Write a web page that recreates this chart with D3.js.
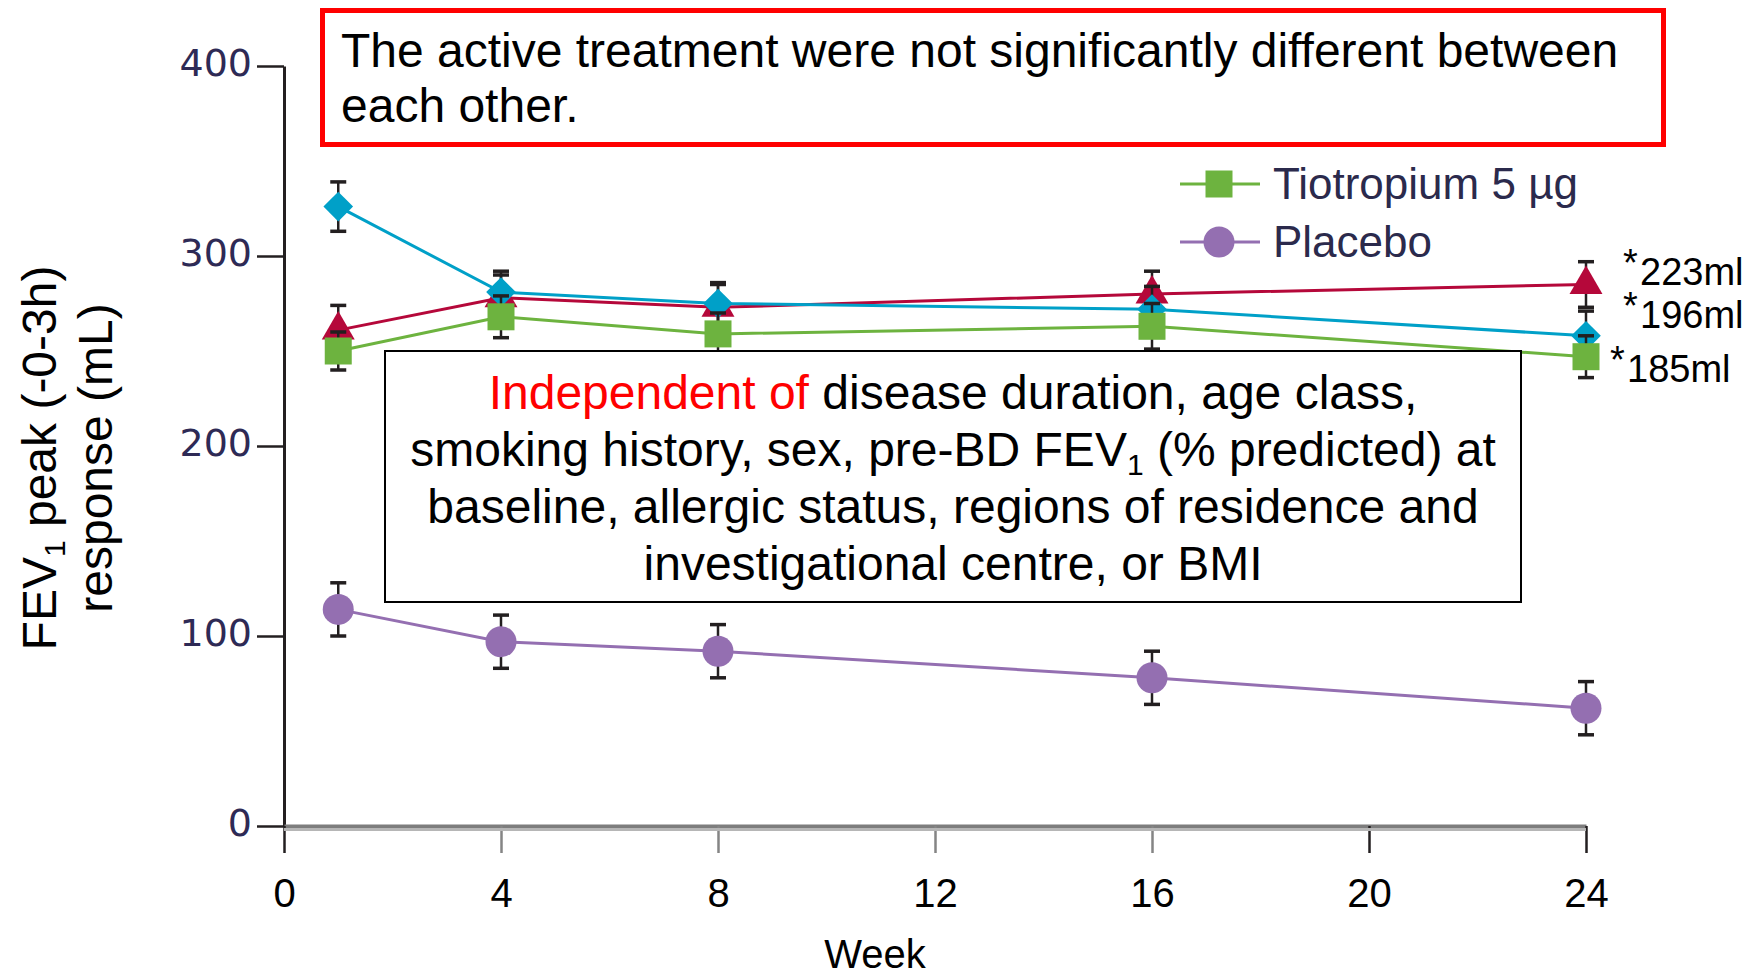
<!DOCTYPE html>
<html>
<head>
<meta charset="utf-8">
<script src="https://cdn.jsdelivr.net/npm/d3@7"></script>
<style>
  body { margin: 0; background: #fff; }
  svg { display: block; }
</style>
</head>
<body>
<svg id="chart" width="1761" height="979"></svg>
<script>
// ---- data ----
const weeks = [1, 4, 8, 16, 24];
const comboHigh = [261, 278, 273, 280, 285];
const comboHighErr = [13, 12, 12, 12, 12];
const comboLow = [326, 281, 275, 272, 258];
const comboLowErr = [13, 11, 11, 12, 13];
const tiotropium = [250, 268, 259, 263, 247];
const tiotropiumErr = [10, 11, 11, 12, 11];
const placebo = [114, 97, 92, 78, 62];
const placeboErr = [14, 14, 14, 14, 14];

const xTicks = [0, 4, 8, 12, 16, 20, 24];
const yTicks = [0, 100, 200, 300, 400];
const legendLabels = ["Tiotropium 5 µg", "Placebo"];
const xTitle = "Week";
const headline = ["The active treatment were not significantly different between", "each other."];

// ---- layout ----
const svg = d3.select("#chart");
const x = d3.scaleLinear().domain([0, 24]).range([284, 1586]);
const y = d3.scaleLinear().domain([0, 400]).range([826, 66]);
const SANS = "'Liberation Sans', Arial, sans-serif";

const series = [
  { key: "comboHigh", values: comboHigh, err: comboHighErr, color: "#b5083a", shape: "triangle" },
  { key: "comboLow", values: comboLow, err: comboLowErr, color: "#00a0c8", shape: "diamond" },
  { key: "tiotropium", values: tiotropium, err: tiotropiumErr, color: "#6db33f", shape: "square" },
  { key: "placebo", values: placebo, err: placeboErr, color: "#946fb1", shape: "circle" }
];

const symbolFor = {
  triangle: d3.symbol().type(d3.symbolTriangle).size(470),
  diamond: d3.symbol().type(d3.symbolSquare).size(440),
  square: d3.symbol().type(d3.symbolSquare).size(729),
  circle: d3.symbol().type(d3.symbolCircle).size(755)
};
const rotFor = { triangle: 0, diamond: 45, square: 0, circle: 0 };

// ---- y axis ----
const yAxis = svg.append("g")
  .attr("transform", "translate(284,0)")
  .call(d3.axisLeft(y).tickValues(yTicks).tickSize(27).tickSizeOuter(0).tickPadding(5));
yAxis.select(".domain").attr("stroke", "#231f20").attr("stroke-width", 3);
yAxis.selectAll(".tick line").attr("stroke", "#231f20").attr("stroke-width", 2.5);
yAxis.selectAll(".tick text")
  .attr("font-family", "'DejaVu Sans', sans-serif")
  .attr("font-size", 38)
  .attr("fill", "#2e2a55")
  .attr("dy", "0.25em");

// ---- x axis ----
const xAxis = svg.append("g")
  .attr("transform", "translate(0,826)")
  .call(d3.axisBottom(x).tickValues(xTicks).tickSize(27).tickSizeOuter(0).tickPadding(26));
xAxis.select(".domain").attr("stroke", "#7d7d7d").attr("stroke-width", 4);
xAxis.append("line")
  .attr("x1", x.range()[0]).attr("x2", x.range()[1])
  .attr("y1", 3.5).attr("y2", 3.5)
  .attr("stroke", "#b6b6b6").attr("stroke-width", 3);
xAxis.selectAll(".tick line")
  .attr("stroke", d => (d === 0 || d >= 20) ? "#231f20" : "#858585")
  .attr("stroke-width", 2.5);
xAxis.selectAll(".tick text")
  .attr("font-family", SANS)
  .attr("font-size", 40)
  .attr("fill", "#000");

svg.append("text")
  .attr("x", 875).attr("y", 968)
  .attr("text-anchor", "middle")
  .attr("font-family", SANS).attr("font-size", 40)
  .text(xTitle);

// ---- y axis title (two rotated lines) ----
const yTitle1 = svg.append("text")
  .attr("transform", "translate(56,458) rotate(-90)")
  .attr("text-anchor", "middle")
  .attr("font-family", SANS).attr("font-size", 48);
yTitle1.append("tspan").text("FEV");
yTitle1.append("tspan").attr("font-size", 30).attr("dy", 9).text("1");
yTitle1.append("tspan").attr("dy", -9).text(" peak (-0-3h)");

svg.append("text")
  .attr("transform", "translate(112,458) rotate(-90)")
  .attr("text-anchor", "middle")
  .attr("font-family", SANS).attr("font-size", 48)
  .text("response (mL)");

// ---- series: line, error bars, markers ----
const line = d3.line().x(d => x(d.w)).y(d => y(d.v));

series.forEach(s => {
  const pts = weeks.map((w, i) => ({ w, v: s.values[i], e: s.err[i] }));
  const g = svg.append("g").attr("class", "series-" + s.key);

  g.append("path")
    .datum(pts)
    .attr("d", line)
    .attr("fill", "none")
    .attr("stroke", s.color)
    .attr("stroke-width", 3);

  const eb = g.selectAll(".err").data(pts).join("g").attr("class", "err")
    .attr("stroke", "#231f20");
  eb.append("line")
    .attr("x1", d => x(d.w)).attr("x2", d => x(d.w))
    .attr("y1", d => y(d.v + d.e)).attr("y2", d => y(d.v - d.e))
    .attr("stroke-width", 2.5);
  eb.append("line")
    .attr("x1", d => x(d.w) - 8).attr("x2", d => x(d.w) + 8)
    .attr("y1", d => y(d.v + d.e)).attr("y2", d => y(d.v + d.e))
    .attr("stroke-width", 3.5);
  eb.append("line")
    .attr("x1", d => x(d.w) - 8).attr("x2", d => x(d.w) + 8)
    .attr("y1", d => y(d.v - d.e)).attr("y2", d => y(d.v - d.e))
    .attr("stroke-width", 3.5);

  g.selectAll(".mk").data(pts).join("path").attr("class", "mk")
    .attr("d", symbolFor[s.shape])
    .attr("transform", d => `translate(${x(d.w)},${y(d.v)}) rotate(${rotFor[s.shape]})`)
    .attr("fill", s.color);
});

// ---- differences vs placebo at the last visit ----
const last = weeks.length - 1;
const diffLabelOffsets = [0, -8, 25];
const diffLabelX = [1623, 1623, 1610];
series.slice(0, 3).forEach((s, i) => {
  const diff = s.values[last] - placebo[last];
  const base = y(s.values[last]) + diffLabelOffsets[i];
  svg.append("text")
    .attr("x", diffLabelX[i]).attr("y", base - 9)
    .attr("font-family", SANS).attr("font-size", 38).attr("fill", "#000")
    .text("*");
  svg.append("text")
    .attr("x", diffLabelX[i] + 17).attr("y", base)
    .attr("font-family", SANS).attr("font-size", 38).attr("fill", "#000")
    .text(diff + "ml");
});

// ---- legend ----
const legendItems = [series[2], series[3]];
const legendRows = [184, 242];
legendItems.forEach((s, i) => {
  const g = svg.append("g").attr("transform", `translate(0,${legendRows[i]})`);
  g.append("line").attr("x1", 1180).attr("x2", 1260).attr("y1", 0).attr("y2", 0)
    .attr("stroke", s.color).attr("stroke-width", 3);
  g.append("path").attr("d", symbolFor[s.shape])
    .attr("transform", "translate(1219,0)").attr("fill", s.color);
  g.append("text").attr("x", 1273).attr("y", 15)
    .attr("font-family", SANS)
    .attr("font-size", 44).attr("fill", "#2b2a4c")
    .text(legendLabels[i]);
});

// ---- headline box ----
svg.append("rect")
  .attr("x", 322.5).attr("y", 10.5).attr("width", 1341).attr("height", 134)
  .attr("fill", "#fff").attr("stroke", "#ff0000").attr("stroke-width", 5);
svg.append("g").selectAll("text").data(headline).join("text")
  .attr("x", 341).attr("y", (d, i) => 67 + i * 55)
  .attr("font-family", SANS).attr("font-size", 48).attr("fill", "#000")
  .text(d => d);

// ---- covariate note box ----
svg.append("rect")
  .attr("x", 385).attr("y", 351).attr("width", 1136).attr("height", 251)
  .attr("fill", "#fff").attr("stroke", "#000").attr("stroke-width", 2);

const note = svg.append("g")
  .attr("font-family", SANS).attr("font-size", 48).attr("fill", "#000")
  .attr("text-anchor", "middle");
const n1 = note.append("text").attr("x", 953).attr("y", 409);
n1.append("tspan").attr("fill", "#ff0000").text("Independent of ");
n1.append("tspan").text("disease duration, age class,");
const n2 = note.append("text").attr("x", 953).attr("y", 466);
n2.append("tspan").text("smoking history, sex, pre-BD FEV");
n2.append("tspan").attr("font-size", 30).attr("dy", 9).text("1");
n2.append("tspan").attr("dy", -9).text(" (% predicted) at");
note.append("text").attr("x", 953).attr("y", 523)
  .text("baseline, allergic status, regions of residence and");
note.append("text").attr("x", 953).attr("y", 580)
  .text("investigational centre, or BMI");
</script>
</body>
</html>
